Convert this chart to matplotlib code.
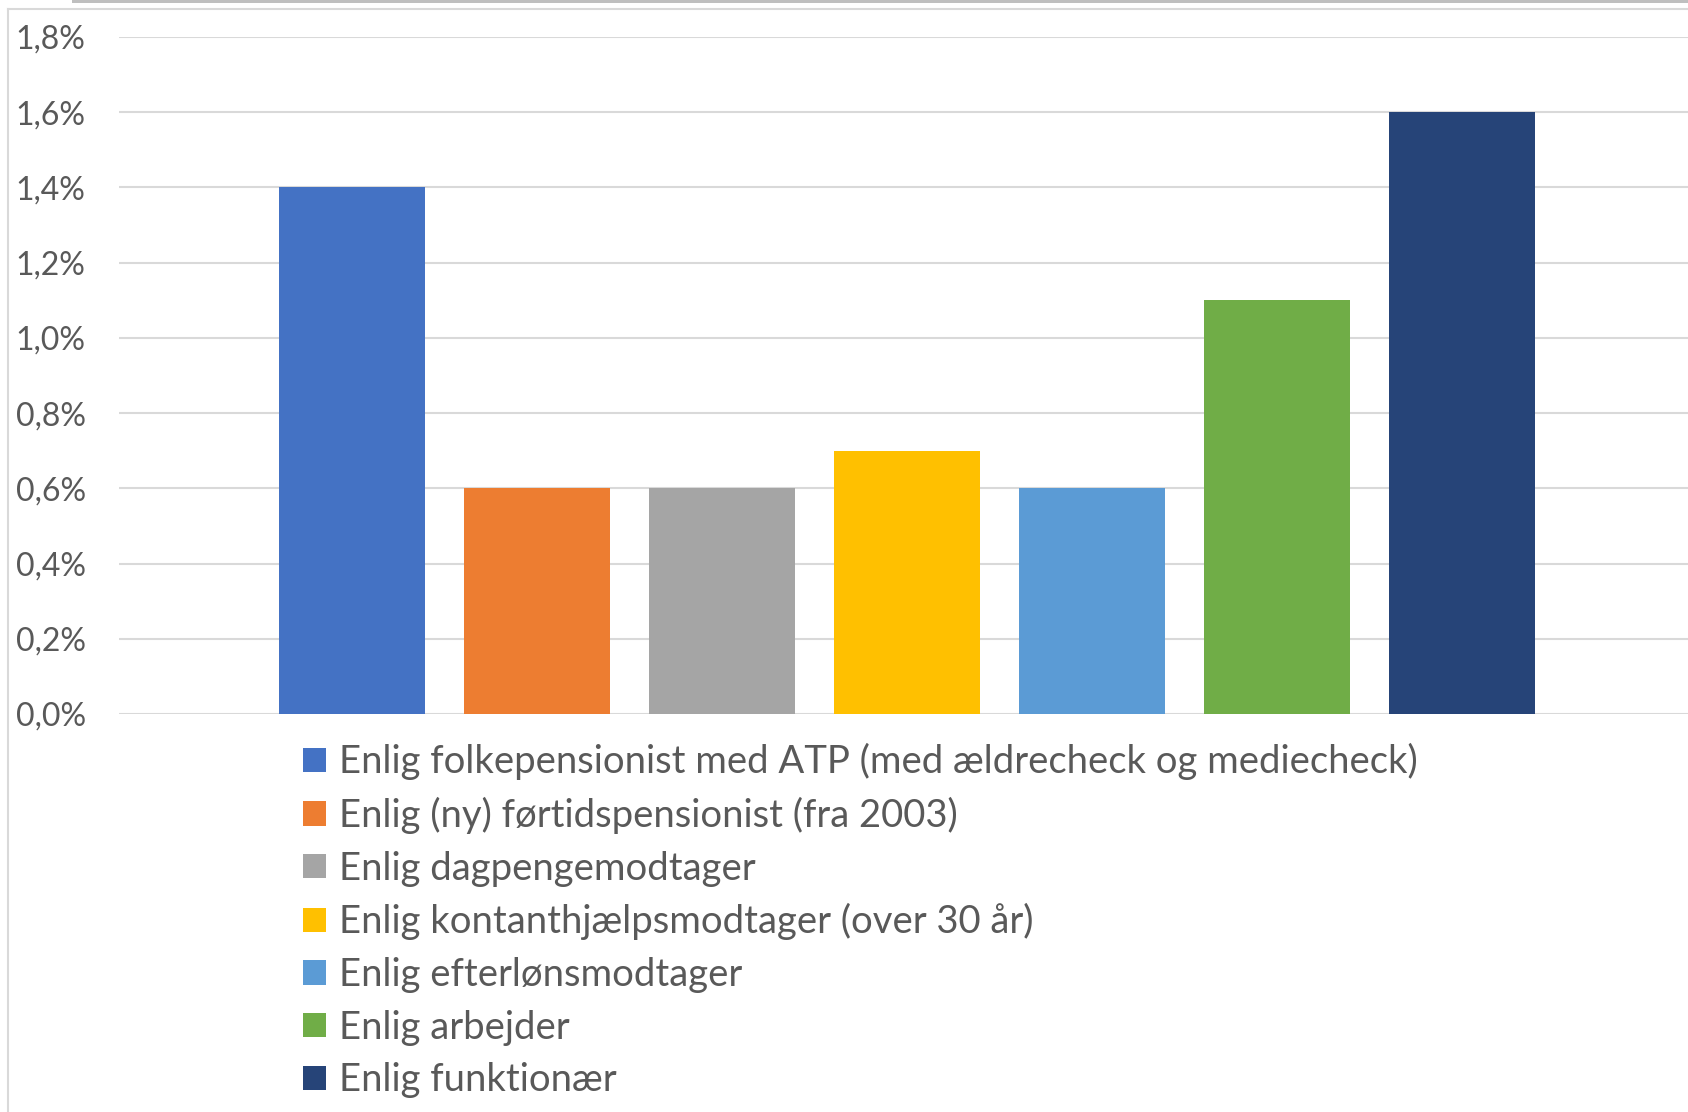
import matplotlib.pyplot as plt
from matplotlib.lines import Line2D
from matplotlib.patches import Rectangle, Patch
from matplotlib.ticker import FuncFormatter

plt.rcParams['font.family'] = ['Lato', 'DejaVu Sans']

# data (percent)
labels = [
    "Enlig folkepensionist med ATP (med ældrecheck og mediecheck)",
    "Enlig (ny) førtidspensionist (fra 2003)",
    "Enlig dagpengemodtager",
    "Enlig kontanthjælpsmodtager (over 30 år)",
    "Enlig efterlønsmodtager",
    "Enlig arbejder",
    "Enlig funktionær",
]
values = [1.4, 0.6, 0.6, 0.7, 0.6, 1.1, 1.6]
colors = ["#4472C4", "#ED7D31", "#A5A5A5", "#FFC000", "#5B9BD5", "#70AD47", "#264478"]
yticks = [0.0, 0.2, 0.4, 0.6, 0.8, 1.0, 1.2, 1.4, 1.6, 1.8]

W, H = 1688, 1112
txt = "#595959"

fig = plt.figure(figsize=(W / 100, H / 100), dpi=100)
fig.patch.set_facecolor("white")

# plot area in pixel terms
left, right, top, bottom = 119, 1688, 37, 714
ax = fig.add_axes([left / W, 1 - bottom / H, (right - left) / W, (bottom - top) / H])

x = list(range(len(values)))
ax.bar(x, values, width=0.79, color=colors, zorder=3)

ax.set_ylim(0, 1.8)
ax.set_xlim(-1.259, 7.22)
ax.set_yticks(yticks)
ax.yaxis.set_major_formatter(FuncFormatter(lambda v, p: f"{v:.1f}%".replace(".", ",")))
ax.tick_params(axis="y", length=0, pad=24, labelsize=23, labelcolor=txt)
ax.set_xticks([])
ax.grid(axis="y", color="#D9D9D9", linewidth=1.5, zorder=0)
for s in ax.spines.values():
    s.set_visible(False)
ax.patch.set_alpha(0)

# legend below the plot
fs = 27.5
handles = [Patch(facecolor=c, edgecolor="none") for c in colors]
fig.legend(handles, labels, loc="upper left", bbox_to_anchor=(303 / W, 1 - 743 / H),
           frameon=False, fontsize=fs, labelcolor=txt,
           handlelength=0.6, handleheight=0.6, handletextpad=0.34,
           labelspacing=0.435, borderpad=0, borderaxespad=0)

# screenshot frame: chart border and grey strip on top
fig.add_artist(Line2D([8 / W, 8 / W], [0, 1 - 9 / H], color="#D9D9D9", lw=1.5))
fig.add_artist(Line2D([8 / W, 1], [1 - 9 / H, 1 - 9 / H], color="#D9D9D9", lw=1.5))
fig.add_artist(Rectangle((72 / W, 1 - 3 / H), 1, 3 / H, color="#BFBFBF", lw=0))

fig.savefig("out.png", dpi=100)
